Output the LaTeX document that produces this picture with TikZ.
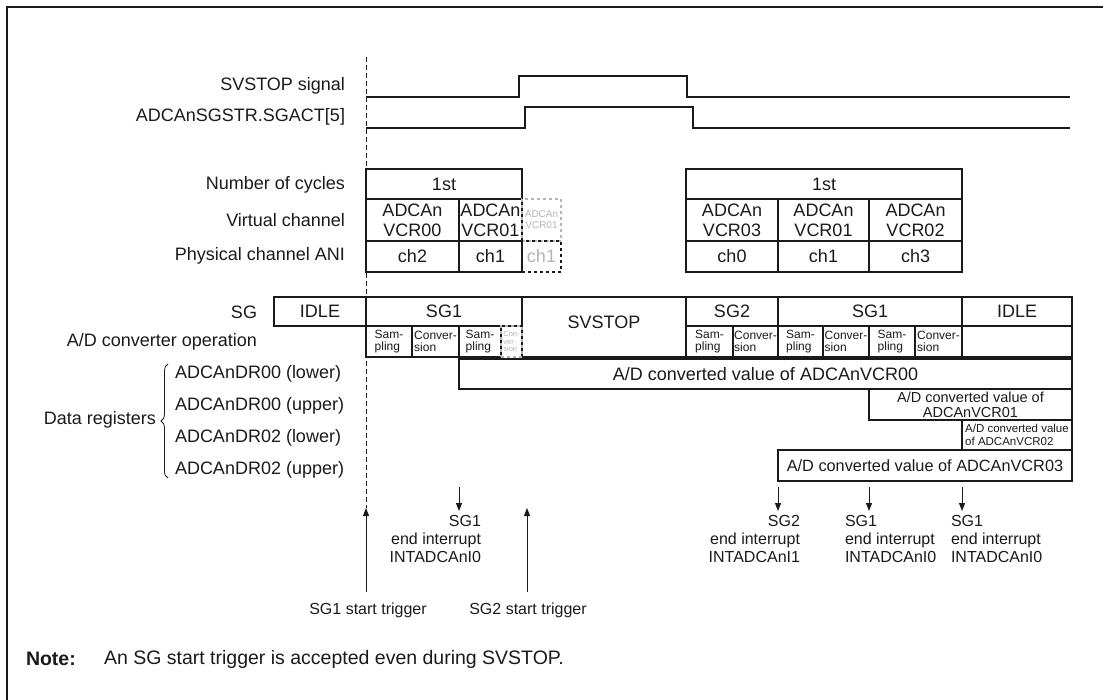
\documentclass[tikz,border=0pt]{standalone}
\usepackage{fontspec}
\setmainfont{Liberation Sans}
\usetikzlibrary{arrows.meta,decorations.pathreplacing}
\definecolor{ink}{HTML}{1A1A1A}
\definecolor{ghost}{HTML}{B4B4B4}
\newcommand\cbox[7][]{\node[cell,#1,minimum width={(#5)-(#3)},minimum height={(#6)-(#4)}] (#2) at (#3,#4) {#7};}
\begin{document}
\begin{tikzpicture}[x=1pt,y=-1pt,
  every node/.style={inner sep=0pt,outer sep=0pt,text=ink},
  big/.style={font=\fontsize{18}{20}\selectfont},
  lbl/.style={big,anchor=east},
  cell/.style={draw=ink,line width=1.2pt,anchor=north west,big,align=center},
  opc/.style={font=\fontsize{12}{12.5}\selectfont,align=left},
  ghostcell/.style={draw=ghost,dashed,text=ghost},
  sig/.style={draw=ink,line width=1.2pt},
  arr/.style={draw=ink,line width=1pt,-{Triangle[length=8pt,width=6pt]}},
  small/.style={font=\fontsize{16}{18}\selectfont}
]
\useasboundingbox (0,0) rectangle (1103,700);
\draw[ink,line width=2pt] (7,700) -- (7,7) -- (1103,7);

% signals
\node[lbl] (lsv) at (345,86) {SVSTOP signal};
\node[lbl] (lsg) at (345,117) {ADCAnSGSTR.SGACT[5]};
\draw[sig] (366,97) -- (519,97) -- (519,76) -- (687,76) -- (687,97) -- (1070,97);
\draw[sig] (366,128) -- (525,128) -- (525,107) -- (693,107) -- (693,128) -- (1070,128);

% channel table labels
\node[lbl] (lcy) at (345,185) {Number of cycles};
\node[lbl] (lvc) at (345,220) {Virtual channel};
\node[lbl] (lpc) at (345,256) {Physical channel ANI};
\node[lbl] (lsgr) at (257,312) {SG};
\node[lbl] (lop) at (257,342) {A/D converter operation};

\cbox{cyc1}{366}{169}{522}{199}{1st}
\cbox{vc00}{366}{199}{459}{241}{ADCAn\\VCR00}
\cbox{vc01}{459}{199}{522}{241}{ADCAn\\VCR01}
\cbox[ghostcell,font=\fontsize{10}{11}\selectfont]{vc01g}{522}{199}{561}{241}{ADCAn\\VCR01}
\cbox{pc2}{366}{241}{459}{272}{ch2}
\cbox{pc1}{459}{241}{522}{272}{ch1}
\cbox[dashed,text=ghost]{pc1g}{522}{241}{561}{272}{ch1}
\cbox{cyc2}{686}{169}{962}{199}{1st}
\cbox{vc03}{686}{199}{778}{241}{ADCAn\\VCR03}
\cbox{vc01b}{778}{199}{869}{241}{ADCAn\\VCR01}
\cbox{vc02}{869}{199}{962}{241}{ADCAn\\VCR02}
\cbox{pc0}{686}{241}{778}{272}{ch0}
\cbox{pc1b}{778}{241}{869}{272}{ch1}
\cbox{pc3}{869}{241}{962}{272}{ch3}

% SG row
\cbox{sgi1}{274}{297}{366}{326}{IDLE}
\cbox{sg1a}{366}{297}{522}{326}{SG1}
\cbox{svs}{522}{297}{686}{357}{}
\node[big] (svst) at (604,322) {SVSTOP};
\cbox{sg2}{686}{297}{778}{326}{SG2}
\cbox{sg1b}{778}{297}{962}{326}{SG1}
\cbox{sgi2}{962}{297}{1072}{326}{IDLE}

% A/D operation row
\cbox[opc]{op1}{366}{326}{412}{357}{Sam-\\pling}
\cbox[opc]{op2}{412}{326}{459}{357}{Conver-\\sion}
\cbox[opc]{op3}{459}{326}{501}{357}{Sam-\\pling}
\cbox[ghostcell,font=\fontsize{7.5}{7.5}\selectfont,align=left]{op4}{501}{326}{522}{357}{Con-\\ver-\\sion}
\cbox[opc]{op5}{686}{326}{733}{357}{Sam-\\pling}
\cbox[opc]{op6}{733}{326}{778}{357}{Conver-\\sion}
\cbox[opc]{op7}{778}{326}{823}{357}{Sam-\\pling}
\cbox[opc]{op8}{823}{326}{869}{357}{Conver-\\sion}
\cbox[opc]{op9}{869}{326}{915}{357}{Sam-\\pling}
\cbox[opc]{op10}{915}{326}{962}{357}{Conver-\\sion}
\cbox[opc]{op11}{962}{326}{1072}{357}{}

% data registers
\node[lbl] (ldr) at (156,420) {Data registers};
\draw[ink,line width=0.8pt,decorate,decoration={brace,amplitude=7pt,mirror}] (168,364) -- (168,478);
\node[big,anchor=west] (r1) at (175,374) {ADCAnDR00 (lower)};
\node[big,anchor=west] (r2) at (175,406) {ADCAnDR00 (upper)};
\node[big,anchor=west] (r3) at (175,438) {ADCAnDR02 (lower)};
\node[big,anchor=west] (r4) at (175,470) {ADCAnDR02 (upper)};

\cbox{dr0}{459}{359}{1072}{389}{A/D converted value of ADCAnVCR00}
\cbox[font=\fontsize{14.5}{15}\selectfont]{dr1}{869}{389}{1072}{420}{A/D converted value of\\ADCAnVCR01}
\cbox[font=\fontsize{11.5}{13}\selectfont,align=left]{dr2}{962}{420}{1072}{450}{A/D converted value\\of ADCAnVCR02}
\cbox[font=\fontsize{16.3}{18}\selectfont]{dr3}{778}{450}{1072}{481}{A/D converted value of ADCAnVCR03}

% triggers
\coordinate (top) at (366,57);
\coordinate (t1h) at (366,508);
\coordinate (t1) at (366,592);
\coordinate (t2h) at (527,508);
\coordinate (t2) at (527,592);
\draw[ink,line width=1pt,dash pattern=on 5pt off 3pt] (top) -- (t1h);
\draw[arr] (t1) -- (t1h);
\draw[arr] (t2) -- (t2h);
\node[small,anchor=north] (lt1) at (368,603) {SG1 start trigger};
\node[small,anchor=north] (lt2) at (528,603) {SG2 start trigger};

% interrupts
\foreach \n/\x in {a/459,b/778,c/869,d/962}{
  \coordinate (i\n) at (\x,487);
  \coordinate (j\n) at (\x,511);
  \draw[arr] (i\n) -- (j\n);
}
\node[small,align=right,anchor=north east] (ia) at (481,515) {SG1\\end interrupt\\INTADCAnI0};
\node[small,align=right,anchor=north east] (ib) at (800,515) {SG2\\end interrupt\\INTADCAnI1};
\node[small,align=left,anchor=north west] (ic) at (845,515) {SG1\\end interrupt\\INTADCAnI0};
\node[small,align=left,anchor=north west] (id) at (951,515) {SG1\\end interrupt\\INTADCAnI0};

% note
\node[anchor=west,font=\fontsize{19.5}{21}\bfseries] (nt) at (26,659) {Note:};
\node[anchor=west,font=\fontsize{19.5}{21}\selectfont] (ntx) at (104,659) {An SG start trigger is accepted even during SVSTOP.};
\end{tikzpicture}
\end{document}
